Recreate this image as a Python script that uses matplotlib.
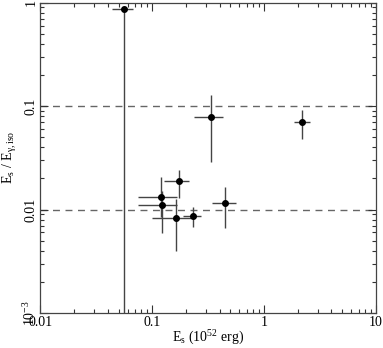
import matplotlib
matplotlib.use("Agg")
import matplotlib.pyplot as plt
import numpy as np
from matplotlib.ticker import LogLocator, NullFormatter, FixedLocator, FixedFormatter

plt.rcParams['font.family'] = ['Liberation Serif', 'DejaVu Serif']
plt.rcParams['mathtext.fontset'] = 'custom'
plt.rcParams['mathtext.rm'] = 'Liberation Serif'
plt.rcParams['mathtext.it'] = 'Liberation Serif'

# data: E_s (1e52 erg), ratio E_s / E_gamma,iso
es      = [0.0558, 0.333, 0.175, 0.1197, 0.1210, 0.163, 0.2297, 0.450, 2.20]
es_lo   = [0.0434, 0.236, 0.128, 0.075, 0.074, 0.0993, 0.189, 0.342, 1.85]
es_hi   = [0.0676, 0.431, 0.213, 0.165, 0.165, 0.233, 0.271, 0.561, 2.58]
ratio    = [0.865, 0.0778, 0.0190, 0.0133, 0.0111, 0.00828, 0.00865, 0.01148, 0.0696]
ratio_lo = [1e-4, 0.0290, 0.0128, 0.0084, 0.0059, 0.0040, 0.00682, 0.00658, 0.0477]
ratio_hi = [0.865, 0.128, 0.0241, 0.0205, 0.0150, 0.01256, 0.0105, 0.01638, 0.0915]
ref_levels = [0.1, 0.01]

fig = plt.figure(figsize=(3.83, 3.48), dpi=100)
ax = fig.add_axes([0.1057, 0.1006, 0.876, 0.892])

x = np.array(es); y = np.array(ratio)
xerr = [x - np.array(es_lo), np.array(es_hi) - x]
yerr = [y - np.array(ratio_lo), np.array(ratio_hi) - y]
ax.errorbar(x, y, xerr=xerr, yerr=yerr, fmt='o', color='black', ms=4,
            ecolor='#444444', elinewidth=1.0, capsize=0, zorder=3)

for lv in ref_levels:
    ax.axhline(lv, color='#666666', ls=(0, (5, 4)), lw=1.0, zorder=1)

ax.set_xscale('log'); ax.set_yscale('log')
ax.set_xlim(0.01, 10); ax.set_ylim(1e-3, 1)

ax.xaxis.set_major_locator(FixedLocator([0.01, 0.1, 1, 10]))
ax.xaxis.set_major_formatter(FixedFormatter(['0.01', '0.1', '1', '10']))
ax.yaxis.set_major_locator(FixedLocator([1e-3, 0.01, 0.1, 1]))
ax.yaxis.set_major_formatter(FixedFormatter([r'10$^{-3}$', '0.01', '0.1', '1']))
ax.xaxis.set_minor_locator(LogLocator(base=10, subs=np.arange(2, 10)))
ax.yaxis.set_minor_locator(LogLocator(base=10, subs=np.arange(2, 10)))
ax.xaxis.set_minor_formatter(NullFormatter())
ax.yaxis.set_minor_formatter(NullFormatter())

ax.tick_params(which='both', direction='in', top=True, right=True, colors='#333333',
               labelcolor='black', labelsize=10)
ax.tick_params(which='major', length=6, width=0.8)
ax.tick_params(which='minor', length=3, width=0.8)
ax.tick_params(axis='x', which='major', pad=2)
ax.tick_params(axis='y', which='major', pad=2)
for lab in ax.get_yticklabels():
    lab.set_rotation(90)
    lab.set_va('center')
for s in ax.spines.values():
    s.set_color('#444444'); s.set_linewidth(0.9)

ax.set_xlabel(r'E$_{\rm s}$ (10$^{52}$ erg)', fontsize=10, labelpad=0)
ax.set_ylabel(r'E$_{\rm s}$ / E$_{\gamma,\rm iso}$', fontsize=10, labelpad=2)

fig.savefig('out.png', dpi=100)
